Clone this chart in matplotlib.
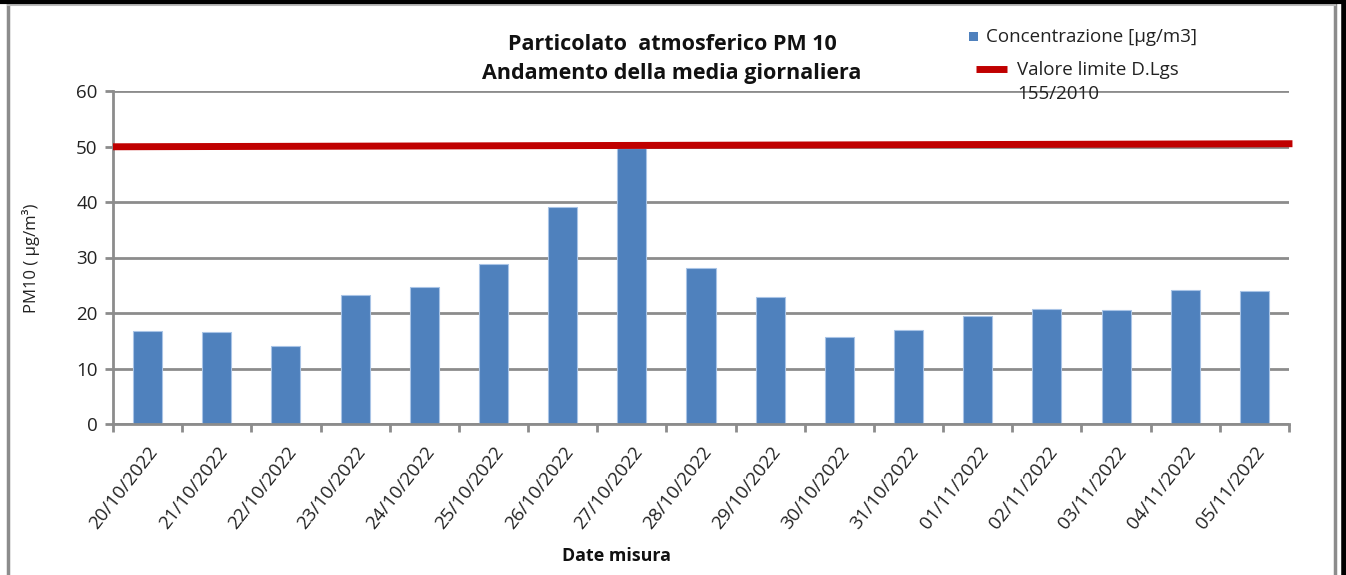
import matplotlib
matplotlib.use("Agg")
import matplotlib.pyplot as plt
from matplotlib.patches import Rectangle
from matplotlib.lines import Line2D

# ---- data ----
dates = ["20/10/2022", "21/10/2022", "22/10/2022", "23/10/2022", "24/10/2022",
         "25/10/2022", "26/10/2022", "27/10/2022", "28/10/2022", "29/10/2022",
         "30/10/2022", "31/10/2022", "01/11/2022", "02/11/2022", "03/11/2022",
         "04/11/2022", "05/11/2022"]
pm10 = [16.8, 16.5, 14.0, 23.2, 24.6, 28.8, 39.1, 49.7, 28.1, 22.8,
        15.6, 17.0, 19.5, 20.7, 20.5, 24.1, 23.9]
limit_x = [-0.5, 16.55]
limit_y = [49.95, 50.5]
yticks = [0, 10, 20, 30, 40, 50, 60]

title = "Particolato  atmosferico PM 10\nAndamento della media giornaliera"
bar_label = "Concentrazione [µg/m3]"
limit_label = "Valore limite D.Lgs\n155/2010"

FONT = "Open Sans"
W, H = 1346, 575
fig = plt.figure(figsize=(W / 100, H / 100), dpi=100)
fig.patch.set_facecolor("white")

def fx(px):
    return px / W

def fy(py):
    return 1 - py / H

ax = fig.add_axes([fx(113), fy(424), fx(1289) - fx(113), fy(91) - fy(424)])

blue = "#4F81BD"
red = "#C00000"
grid_c = "#8C8C8C"

x = list(range(len(dates)))
ax.bar(x, pm10, width=0.42, color=blue, edgecolor="#A9C4E6", linewidth=0.8, zorder=2)
ax.plot(limit_x, limit_y, color=red, lw=5, solid_capstyle="butt", zorder=3, clip_on=False)

ax.set_xlim(-0.5, len(dates) - 0.5)
ax.set_ylim(0, 60)
ax.set_yticks(yticks)
ax.set_yticklabels([str(v) for v in yticks], fontsize=13.5, family=FONT, color="#222222")
ax.yaxis.grid(True, color=grid_c, lw=2, zorder=0)
ax.set_axisbelow(True)

ax.set_xticks([i - 0.5 for i in range(len(dates) + 1)], minor=False)
ax.set_xticklabels([])
ax.set_xticks(x, minor=True)
ax.set_xticklabels(dates, minor=True, rotation=52, ha="right", va="top",
                   rotation_mode="anchor", fontsize=13.5, family=FONT, color="#222222")
ax.tick_params(axis="x", which="minor", length=0, pad=14)
ax.tick_params(axis="x", which="major", length=6, width=2, color=grid_c, direction="out")
ax.tick_params(axis="y", length=6, width=2, color=grid_c, pad=5)

for s in ["top", "right"]:
    ax.spines[s].set_visible(False)
for s in ["left", "bottom"]:
    ax.spines[s].set_color(grid_c)
    ax.spines[s].set_linewidth(2)

# axis labels
fig.text(fx(31), fy(258), "PM10 ( µg/m³)", rotation=90, ha="center", va="center",
         fontsize=12, family=FONT, color="#222222")
fig.text(fx(617), fy(556), "Date misura", ha="center", va="center",
         fontsize=12.9, family=FONT, fontweight="bold", color="#111111")

# title
fig.text(fx(672), fy(59), title, ha="center", va="center", fontsize=15.5,
         family=FONT, fontweight="bold", color="#111111", linespacing=1.5)

# legend (manual)
fig.add_artist(Rectangle((fx(969), fy(41)), fx(9), fy(32) - fy(41), transform=fig.transFigure,
                         facecolor=blue, edgecolor="none"))
fig.text(fx(986), fy(37), bar_label, ha="left", va="center", fontsize=13.5,
         family=FONT, color="#222222")
fig.add_artist(Line2D([fx(976), fx(1007)], [fy(69), fy(69)], transform=fig.transFigure,
                      color=red, lw=5, solid_capstyle="butt"))
fig.text(fx(1017), fy(82), limit_label, ha="left", va="center", fontsize=13.5,
         family=FONT, color="#222222", linespacing=1.45)

# frame
fig.add_artist(Line2D([fx(8), fx(8)], [fy(4), 0], transform=fig.transFigure, color="#8C8C8C", lw=2.5))
fig.add_artist(Line2D([fx(1335), fx(1335)], [fy(4), 0], transform=fig.transFigure, color="#8C8C8C", lw=2.5))
fig.add_artist(Line2D([fx(8), fx(1335)], [fy(4.5), fy(4.5)], transform=fig.transFigure, color="#BBBBBB", lw=1.5))
fig.add_artist(Line2D([0, 1], [fy(1.5), fy(1.5)], transform=fig.transFigure, color="black", lw=3))
fig.add_artist(Line2D([fx(1343.5), fx(1343.5)], [0, 1], transform=fig.transFigure, color="black", lw=4))

fig.savefig("out.png", dpi=100, facecolor="white")
